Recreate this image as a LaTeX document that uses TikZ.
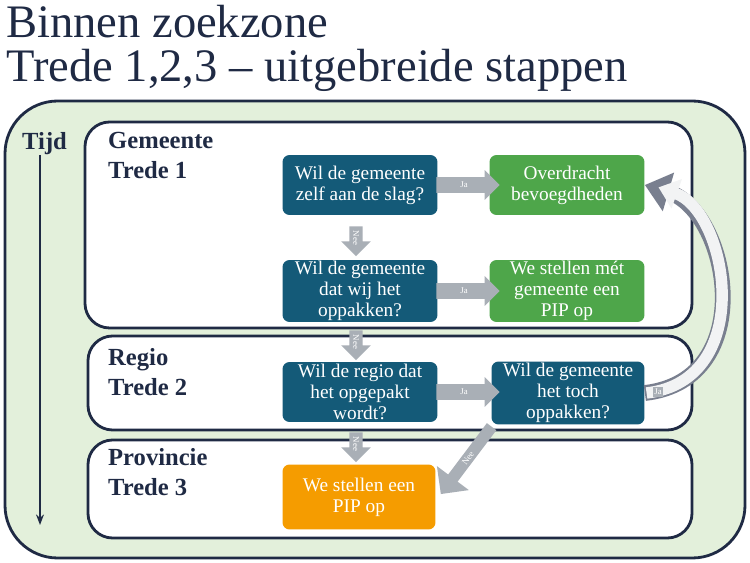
\documentclass[tikz,border=0pt]{standalone}
\usepackage{fontspec}
\setmainfont{Liberation Serif}
\usetikzlibrary{shapes.arrows,arrows.meta}
\definecolor{frame}{HTML}{1F2A44}
\definecolor{zone}{HTML}{E3F0DB}
\definecolor{vraag}{HTML}{145A78}
\definecolor{groen}{HTML}{4EA64A}
\definecolor{oranje}{HTML}{F59C00}
\definecolor{pijl}{HTML}{A9AFB6}
\tikzset{
  vak/.style={draw=frame,line width=1.6pt,rounded corners=14pt,fill=white},
  stap/.style={rounded corners=4pt,text=white,font=\fontsize{11}{12}\selectfont,align=center,inner sep=0pt},
  tredetxt/.style={anchor=north west,align=left,font=\fontsize{14}{17}\selectfont\bfseries,text=frame},
  blok/.style={single arrow,fill=pijl,text=white,font=\fontsize{5}{5}\selectfont,
    minimum height=36pt,minimum width=17pt,single arrow head extend=3pt,inner sep=1.5pt}
}
\begin{document}
\begin{tikzpicture}[x=0.02cm,y=-0.02cm]
\useasboundingbox (0,0) rectangle (750,563);
% titel
\node[anchor=west,font=\fontsize{26.5}{28}\selectfont,text=frame] (t1) at (0,22) {Binnen zoekzone};
\node[anchor=west,font=\fontsize{26.5}{28}\selectfont,text=frame] (t2) at (0,70) {Trede 1,2,3 – uitgebreide stappen};
% zones
\draw[draw=frame,line width=1.6pt,rounded corners=30pt,fill=zone] (5,101) rectangle (745,558);
\draw[vak] (85,122) rectangle (692,328);
\draw[vak] (88,336) rectangle (692,430);
\draw[vak] (88,440) rectangle (692,538);
\node[tredetxt] (tijd) at (16,126) {Tijd};
\coordinate (tboven) at (40,155);
\coordinate (tonder) at (40,525);
\draw[frame,line width=1pt,-{Stealth[length=6pt]}] (tboven) -- (tonder);
\node[tredetxt] (gem) at (102,126) {Gemeente\\Trede 1};
\node[tredetxt] (reg) at (102,342) {Regio\\Trede 2};
\node[tredetxt] (prov) at (102,442) {Provincie\\Trede 3};
% stappen
\node[stap,fill=vraag,minimum width=3.1cm,minimum height=1.2cm] (v1) at (360,185) {Wil de gemeente\\zelf aan de slag?};
\node[stap,fill=vraag,minimum width=3.1cm,minimum height=1.24cm] (v2) at (360,291) {Wil de gemeente\\dat wij het\\oppakken?};
\node[stap,fill=vraag,minimum width=3.1cm,minimum height=1.2cm] (v3) at (360,392) {Wil de regio dat\\het opgepakt\\wordt?};
\node[stap,fill=vraag,minimum width=3.06cm,minimum height=1.26cm] (v4) at (568,393) {Wil de gemeente\\het toch\\oppakken?};
\node[stap,fill=groen,minimum width=3.1cm,minimum height=1.2cm] (g1) at (567,185) {Overdracht\\bevoegdheden};
\node[stap,fill=groen,minimum width=3.1cm,minimum height=1.24cm] (g2) at (567,291) {We stellen mét\\gemeente een\\PIP op};
\node[stap,fill=oranje,minimum width=3.06cm,minimum height=1.3cm] (pip) at (359,497) {We stellen een\\PIP op};
% pijlen
\node[blok] (j1) at (464,185) {Ja};
\node[blok] (j2) at (464,291) {Ja};
\node[blok] (j3) at (464,392) {Ja};
\node[blok,rotate=-90,minimum height=17pt,inner sep=0.5pt] (n1) at (356,238) {Nee};
\node[blok,rotate=-90,minimum height=17pt,inner sep=0.5pt] (n2) at (356,342) {Nee};
\node[blok,rotate=-90,minimum height=17pt,inner sep=0.5pt] (n3) at (356,444) {Nee};
\node[blok,rotate=-127,minimum height=48pt,single arrow head extend=8pt,minimum width=18pt] (n4) at (468,458) {\rotatebox{180}{Nee}};
\draw[frame!60,line width=9pt,-{Triangle[length=14pt,width=22pt]}] (v4.east) .. controls (760,380) and (730,210) .. (g1.east);
\draw[white!85!pijl,line width=6.5pt,shorten >=4pt,-{Triangle[length=11pt,width=17pt]}] ([xshift=1pt]v4.east) .. controls (757,380) and (728,212) .. ([xshift=4pt]g1.east);
\node[font=\fontsize{5}{5}\selectfont,text=white,fill=pijl,inner sep=1pt] (j4) at (658,392) {Ja};
\end{tikzpicture}
\end{document}
